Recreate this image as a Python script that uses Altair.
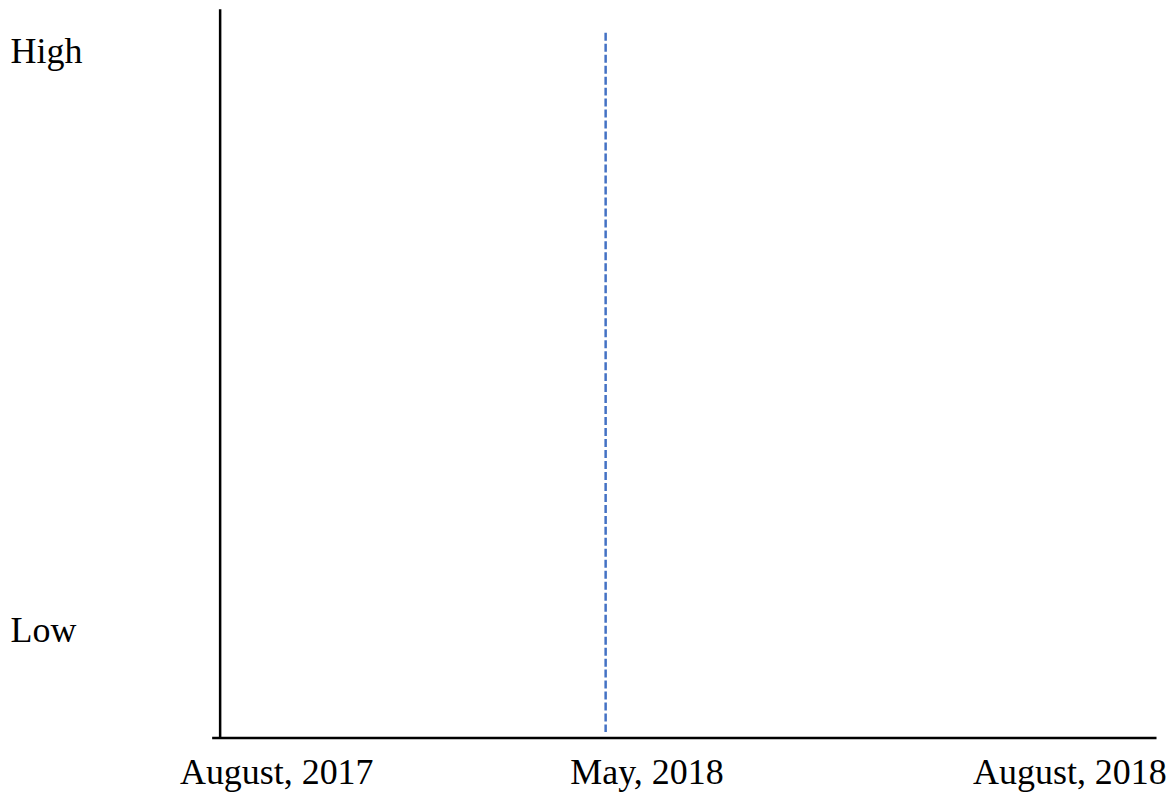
import altair as alt
import pandas as pd

# Timeline axis labels and their positions along the schematic time axis (0-100)
x_labels = ["August, 2017", "May, 2018", "August, 2018"]
x_positions = [6.84, 46.04, 90.83]

# Level axis labels and their positions on the level axis (0-100)
y_labels = ["High", "Low"]
y_positions = [92.6, 13.1]

# Event marker (dashed vertical line)
event_label = ["May, 2018"]
event_x = [41.72]
event_top = [96.7]
event_bottom = [0.73]

FONT = "Liberation Serif"

def label_expr(values, labels):
    expr = "''"
    for v, l in reversed(list(zip(values, labels))):
        expr = f"abs(datum.value - {v}) < 0.001 ? '{l}' : ({expr})"
    return expr

events = pd.DataFrame({
    "event": event_label,
    "x": event_x,
    "top": event_top,
    "bottom": event_bottom,
})

chart = alt.Chart(events).mark_rule(
    color="#4472C4", strokeWidth=2.5, strokeDash=[8, 3]
).encode(
    x=alt.X(
        "x:Q",
        scale=alt.Scale(domain=[0, 100], nice=False, zero=False),
        axis=alt.Axis(
            title=None,
            values=x_positions,
            labelExpr=label_expr(x_positions, x_labels),
            ticks=False,
            tickSize=0,
            grid=False,
            domainColor="black",
            domainWidth=2.5,
            labelFont=FONT,
            labelFontSize=36,
            labelColor="black",
            labelBaseline="alphabetic",
            labelAlign="center",
            labelPadding=46,
            labelFlush=False,
            labelOverlap=False,
            labelLimit=0,
        ),
    ),
    y=alt.Y(
        "top:Q",
        scale=alt.Scale(domain=[0, 100], nice=False, zero=False),
        axis=alt.Axis(
            title=None,
            values=y_positions,
            labelExpr=label_expr(y_positions, y_labels),
            ticks=False,
            tickSize=0,
            grid=False,
            offset=-8,
            domainColor="black",
            domainWidth=2.5,
            labelFont=FONT,
            labelFontSize=36,
            labelColor="black",
            labelBaseline="alphabetic",
            labelAlign="left",
            labelPadding=210,
            labelFlush=False,
            labelOverlap=False,
            labelLimit=0,
        ),
    ),
    y2="bottom:Q",
).properties(
    width=946,
    height=730,
    padding={"left": 204, "top": 0, "right": 10, "bottom": 54},
    autosize=alt.AutoSizeParams(type="none"),
    background="white",
).configure_view(strokeWidth=0, stroke="transparent")

chart.save("out.html", embed_options={"renderer": "svg", "actions": False})
